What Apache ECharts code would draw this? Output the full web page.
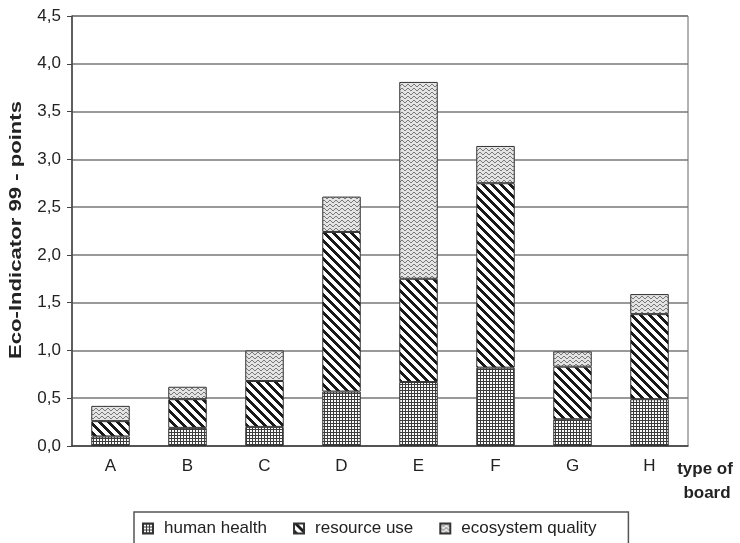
<!DOCTYPE html>
<html><head><meta charset="utf-8">
<script src="https://cdn.jsdelivr.net/npm/echarts@6/dist/echarts.min.js"></script>
<style>html,body{margin:0;padding:0;background:#fff}#c{width:740px;height:543px}</style>
</head><body><div id="c"></div>
<script>
const categories = ['A','B','C','D','E','F','G','H'];
const humanHealth = [0.10, 0.19, 0.20, 0.57, 0.67, 0.82, 0.28, 0.49];
const resourceUse = [0.16, 0.30, 0.48, 1.67, 1.08, 1.93, 0.55, 0.89];
const ecosystemQuality = [0.16, 0.13, 0.32, 0.37, 2.06, 0.39, 0.16, 0.21];
const seriesNames = ['human health', 'resource use', 'ecosystem quality'];
const yAxisName = 'Eco-Indicator 99 - points';
const xAxisNameLines = ['type of', 'board'];

function makePattern(w, h, fn) {
  const c = document.createElement('canvas');
  c.width = w; c.height = h;
  const ctx = c.getContext('2d');
  const img = ctx.createImageData(w, h);
  for (let y = 0; y < h; y++) for (let x = 0; x < w; x++) {
    const v = fn(x, y); const i = (y * w + x) * 4;
    img.data[i] = v; img.data[i+1] = v; img.data[i+2] = v; img.data[i+3] = 255;
  }
  ctx.putImageData(img, 0, 0);
  return { image: c, repeat: 'repeat' };
}
const gridPat = makePattern(3, 3, (x, y) => (x === 0 || y === 0) ? 60 : 250);
const stripePat = makePattern(9, 9, (x, y) => (((x - y) % 9 + 9) % 9) < 4 ? 25 : 255);
const tri = [0, 1, 2, 2, 1, 0];
const wavePat = makePattern(6, 4, (x, y) => (((y - tri[x]) % 4 + 4) % 4) === 0 ? 120 : 228);

const patterns = [gridPat, stripePat, wavePat];
const dataSets = [humanHealth, resourceUse, ecosystemQuality];

const chart = echarts.init(document.getElementById('c'), null, { renderer: 'canvas' });
const font = 'Liberation Sans, Arial, sans-serif';
chart.setOption({
  animation: false,
  textStyle: { fontFamily: font },
  grid: { left: 72, right: 52, top: 16, bottom: 97, show: true, borderColor: '#666', borderWidth: 1, backgroundColor: 'transparent' },
  legend: {
    left: 134, top: 512, padding: [8, 32, 14, 8],
    borderColor: '#555', borderWidth: 1.5,
    itemWidth: 10, itemHeight: 10, itemGap: 26,
    icon: 'rect',
    textStyle: { fontSize: 17, color: '#222', fontFamily: font, padding: [0, 0, 0, 6] },
    data: seriesNames
  },
  xAxis: {
    type: 'category', data: categories,
    axisLine: { lineStyle: { color: '#444', width: 1.5 } },
    axisTick: { show: false },
    axisLabel: { color: '#222', fontSize: 17, margin: 12 }
  },
  yAxis: {
    type: 'value', min: 0, max: 4.5, interval: 0.5,
    axisLine: { show: true, lineStyle: { color: '#444', width: 1.5 } },
    axisTick: { show: true, length: 5, lineStyle: { color: '#444' } },
    splitLine: { lineStyle: { color: '#777', width: 1.5 } },
    axisLabel: { color: '#222', fontSize: 17, margin: 11, formatter: v => v.toFixed(1).replace('.', ',') }
  },
  series: dataSets.map((d, i) => ({
    name: seriesNames[i], type: 'bar', stack: 'total', data: d, barWidth: '50%',
    itemStyle: { color: patterns[i], borderColor: '#333', borderWidth: 1 }
  })),
  graphic: [
    { type: 'text', x: 16, y: 230, rotation: Math.PI / 2, scaleX: 1.3,
      style: { text: yAxisName, font: 'bold 17px ' + font, fill: '#222', align: 'center', verticalAlign: 'middle' } },
    { type: 'text', x: 705, y: 469, style: { text: xAxisNameLines[0], font: 'bold 17px ' + font, fill: '#222', align: 'center', verticalAlign: 'middle' } },
    { type: 'text', x: 707, y: 493, style: { text: xAxisNameLines[1], font: 'bold 17px ' + font, fill: '#222', align: 'center', verticalAlign: 'middle' } }
  ]
});
</script></body></html>
